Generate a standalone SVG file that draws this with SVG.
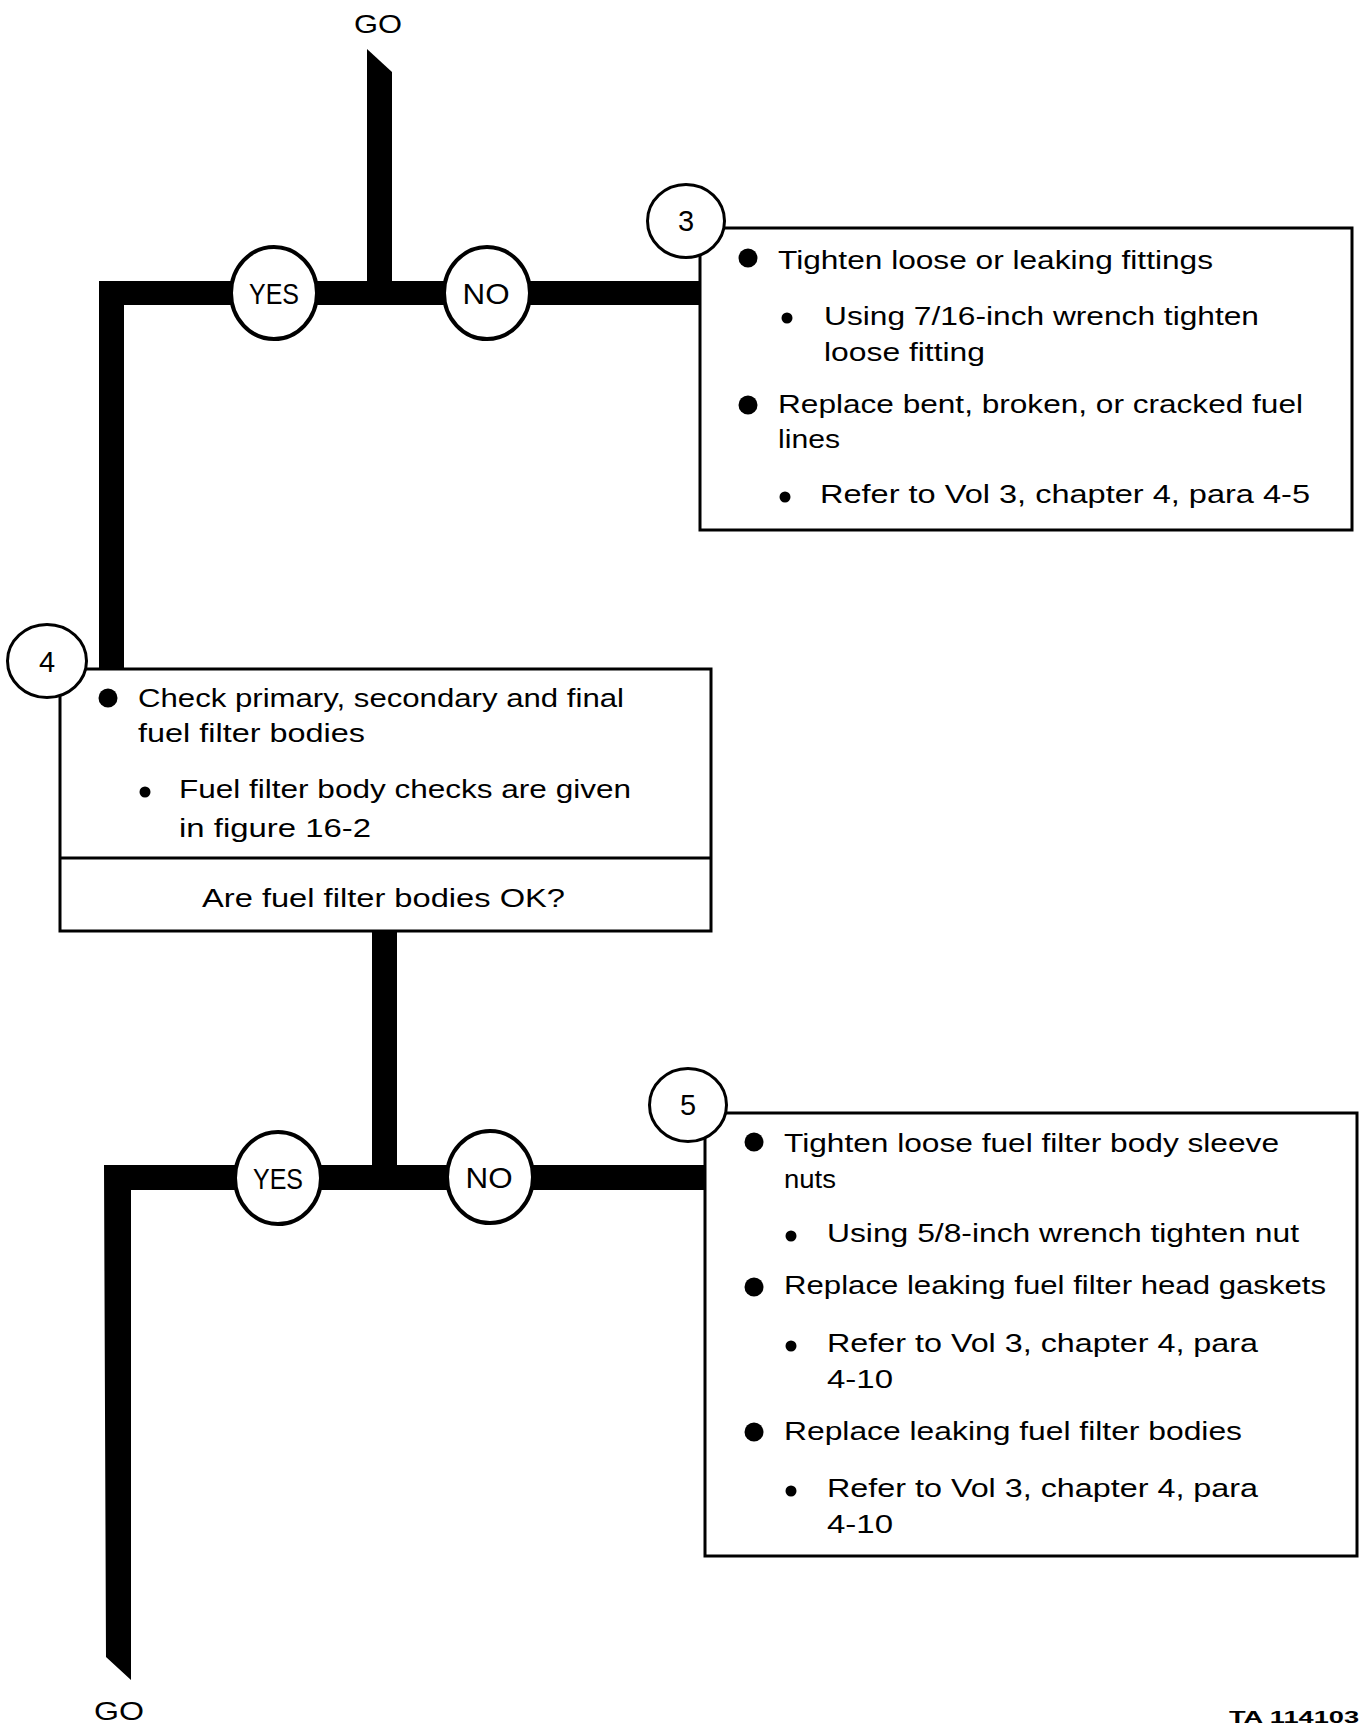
<svg xmlns="http://www.w3.org/2000/svg" width="1362" height="1728" viewBox="0 0 1362 1728">
<style>
text{font-family:"Liberation Sans",Arial,sans-serif;fill:#000}
.t{font-size:26px}
.lbl{font-size:26px;text-anchor:middle}
.dig{font-size:29px;text-anchor:middle}
.yn{font-size:30px;text-anchor:middle}
.box{fill:#fff;stroke:#000;stroke-width:3}
.num{fill:#fff;stroke:#000;stroke-width:3}
.dec{fill:#fff;stroke:#000;stroke-width:4}
.bar{fill:#000}
.bb{fill:#000}
</style>
<rect width="1362" height="1728" fill="#fff"/>

<g id="connectors">
  <path class="bar" d="M367,49 L392,72 V290 H367 Z"/>
  <path class="bar" d="M99,281 H701 V305 H124 V670 H99 Z"/>
  <rect class="bar" x="372" y="930" width="25" height="245"/>
  <path class="bar" d="M104,1165 H706 V1190 H131 V1680 L106,1657 Z"/>
</g>

<g id="go-top"><text class="lbl" x="378" y="33" font-size="28" textLength="48" lengthAdjust="spacingAndGlyphs">GO</text></g>

<g id="yes1"><ellipse class="dec" cx="274" cy="293" rx="43" ry="46"/><text class="yn" x="274" y="304" textLength="50" lengthAdjust="spacingAndGlyphs">YES</text></g>
<g id="no1"><ellipse class="dec" cx="487" cy="293" rx="43" ry="46"/><text class="yn" x="486" y="304" textLength="47" lengthAdjust="spacingAndGlyphs">NO</text></g>

<g id="step3">
  <rect class="box" x="700" y="228" width="652" height="302"/>
  <ellipse class="num" cx="686" cy="221" rx="38.5" ry="36.5"/>
  <text class="dig" x="686" y="231">3</text>
  <circle class="bb" cx="748" cy="258" r="9.5"/>
  <text class="t" x="778" y="269" textLength="435" lengthAdjust="spacingAndGlyphs">Tighten loose or leaking fittings</text>
  <circle class="bb" cx="787" cy="318" r="5.5"/>
  <text class="t" x="824" y="325" textLength="435" lengthAdjust="spacingAndGlyphs">Using 7/16-inch wrench tighten</text>
  <text class="t" x="824" y="361" textLength="161" lengthAdjust="spacingAndGlyphs">loose fitting</text>
  <circle class="bb" cx="748" cy="405" r="9.5"/>
  <text class="t" x="778" y="413" textLength="525" lengthAdjust="spacingAndGlyphs">Replace bent, broken, or cracked fuel</text>
  <text class="t" x="778" y="448" textLength="62" lengthAdjust="spacingAndGlyphs">lines</text>
  <circle class="bb" cx="785" cy="497" r="5.5"/>
  <text class="t" x="820" y="503" textLength="490" lengthAdjust="spacingAndGlyphs">Refer to Vol 3, chapter 4, para 4-5</text>
</g>

<g id="step4">
  <rect class="box" x="60" y="669" width="651" height="262"/>
  <line x1="60" y1="858" x2="711" y2="858" stroke="#000" stroke-width="3"/>
  <ellipse class="num" cx="47" cy="661" rx="39.5" ry="36.5"/>
  <text class="dig" x="47" y="672">4</text>
  <circle class="bb" cx="108" cy="698" r="9.5"/>
  <text class="t" x="138" y="707" textLength="486" lengthAdjust="spacingAndGlyphs">Check primary, secondary and final</text>
  <text class="t" x="138" y="742" textLength="227" lengthAdjust="spacingAndGlyphs">fuel filter bodies</text>
  <circle class="bb" cx="145" cy="792" r="5.5"/>
  <text class="t" x="179" y="798" textLength="452" lengthAdjust="spacingAndGlyphs">Fuel filter body checks are given</text>
  <text class="t" x="179" y="837" textLength="192" lengthAdjust="spacingAndGlyphs">in figure 16-2</text>
  <text class="t" x="202" y="907" textLength="363" lengthAdjust="spacingAndGlyphs">Are fuel filter bodies OK?</text>
</g>

<g id="yes2"><ellipse class="dec" cx="278" cy="1178" rx="43" ry="46"/><text class="yn" x="278" y="1189" textLength="50" lengthAdjust="spacingAndGlyphs">YES</text></g>
<g id="no2"><ellipse class="dec" cx="490" cy="1177" rx="43" ry="46"/><text class="yn" x="489" y="1188" textLength="47" lengthAdjust="spacingAndGlyphs">NO</text></g>

<g id="step5">
  <rect class="box" x="705" y="1113" width="652" height="443"/>
  <ellipse class="num" cx="688" cy="1105" rx="38.5" ry="36.5"/>
  <text class="dig" x="688" y="1115">5</text>
  <circle class="bb" cx="754" cy="1142" r="9.5"/>
  <text class="t" x="784" y="1152" textLength="495" lengthAdjust="spacingAndGlyphs">Tighten loose fuel filter body sleeve</text>
  <text class="t" x="784" y="1188" textLength="52" lengthAdjust="spacingAndGlyphs">nuts</text>
  <circle class="bb" cx="791" cy="1236" r="5.5"/>
  <text class="t" x="827" y="1242" textLength="472" lengthAdjust="spacingAndGlyphs">Using 5/8-inch wrench tighten nut</text>
  <circle class="bb" cx="754" cy="1287" r="9.5"/>
  <text class="t" x="784" y="1294" textLength="542" lengthAdjust="spacingAndGlyphs">Replace leaking fuel filter head gaskets</text>
  <circle class="bb" cx="791" cy="1346" r="5.5"/>
  <text class="t" x="827" y="1352" textLength="431" lengthAdjust="spacingAndGlyphs">Refer to Vol 3, chapter 4, para</text>
  <text class="t" x="827" y="1388" textLength="66" lengthAdjust="spacingAndGlyphs">4-10</text>
  <circle class="bb" cx="754" cy="1432" r="9.5"/>
  <text class="t" x="784" y="1440" textLength="458" lengthAdjust="spacingAndGlyphs">Replace leaking fuel filter bodies</text>
  <circle class="bb" cx="791" cy="1491" r="5.5"/>
  <text class="t" x="827" y="1497" textLength="431" lengthAdjust="spacingAndGlyphs">Refer to Vol 3, chapter 4, para</text>
  <text class="t" x="827" y="1533" textLength="66" lengthAdjust="spacingAndGlyphs">4-10</text>
</g>

<g id="go-bottom"><text class="lbl" x="119" y="1720" font-size="28" textLength="50" lengthAdjust="spacingAndGlyphs">GO</text></g>
<g id="ref"><text x="1229" y="1723" font-size="16" font-weight="bold" textLength="130" lengthAdjust="spacingAndGlyphs">TA 114103</text></g>
</svg>
